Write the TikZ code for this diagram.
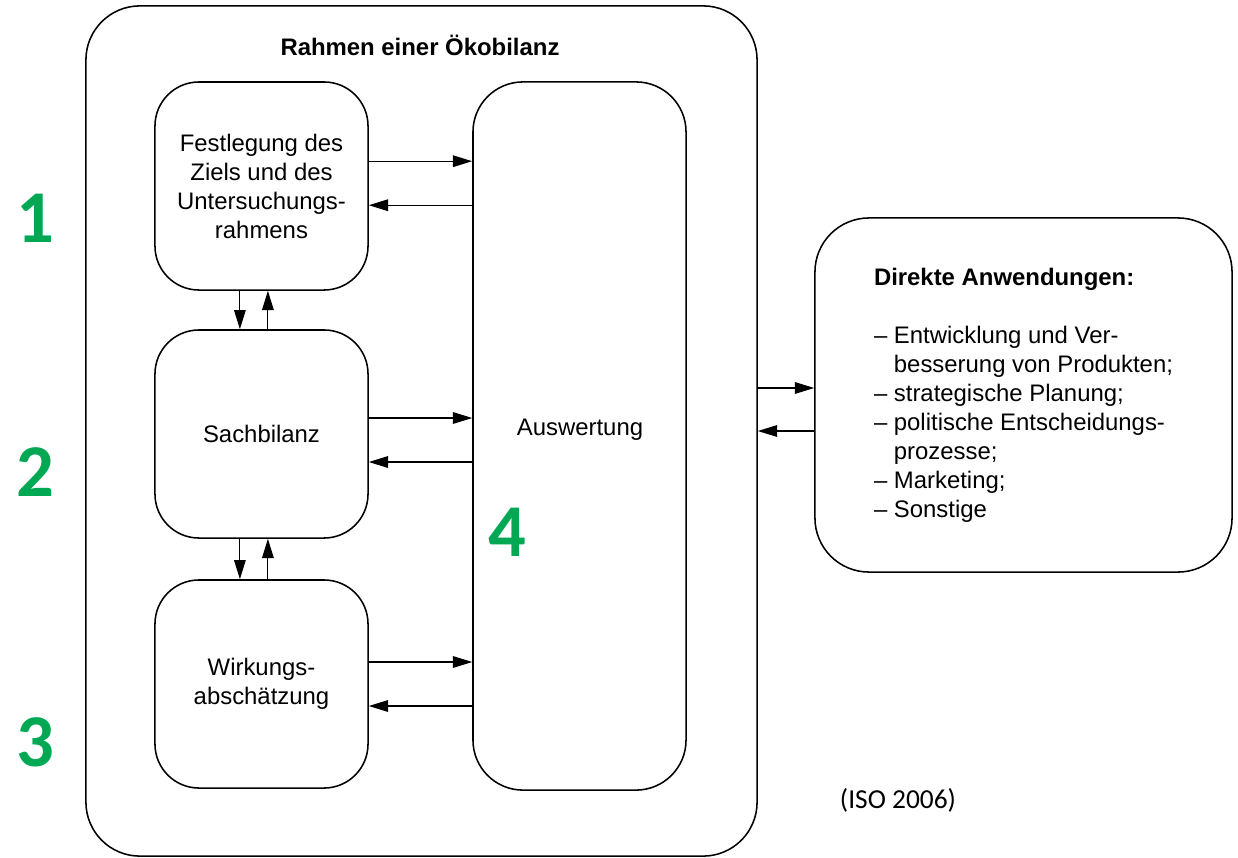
\documentclass[tikz,border=0pt]{standalone}
\usepackage{fontspec}
\setmainfont{Liberation Sans}
\newfontfamily\calib{Carlito}
\usetikzlibrary{arrows.meta}

\definecolor{nrgruen}{RGB}{0,168,84}

\tikzset{
  kasten/.style={draw, line width=1.1pt, rounded corners=1.1cm,
    minimum width=5.325cm, minimum height=5.2cm, align=center,
    font=\fontsize{17}{20.6}\selectfont},
  pfeil/.style={line width=0.8pt, -{Triangle[length=4.8mm,width=2.9mm]}},
  nummer/.style={text=nrgruen, font=\calib\bfseries\fontsize{53}{60}\selectfont}
}

\begin{document}
\begin{tikzpicture}[x=0.025cm,y=-0.025cm]
  \useasboundingbox (0,0) rectangle (1238,857);

  \node[draw, line width=1.1pt, rounded corners=1.35cm,
    minimum width=16.775cm, minimum height=21.25cm] (rahmen) at (421.5,431) {};
  \node[font=\bfseries\fontsize{17}{20.6}\selectfont] (titel) at (420,45) {Rahmen einer Ökobilanz};

  \node[kasten] (ziel) at (261.5,186) {Festlegung des\\Ziels und des\\Untersuchungs-\\rahmens};
  \node[kasten] (sach) at (261.5,434) {Sachbilanz};
  \node[kasten] (wirk) at (261.5,684) {Wirkungs-\\abschätzung};
  \node[kasten, rounded corners=1.25cm, minimum height=17.7cm] (ausw) at (579.5,436) {};
  \node[font=\fontsize{17}{20.6}\selectfont] (auswtext) at (580,430) {Auswertung};

  \node[kasten, rounded corners=1.35cm, minimum width=10.425cm, minimum height=8.85cm, align=left] (anwend) at (1023.5,395)
    {\textbf{Direkte Anwendungen:}\\[20.6pt]
     – Entwicklung und Ver-\\
     \hphantom{– }besserung von Produkten;\\
     – strategische Planung;\\
     – politische Entscheidungs-\\
     \hphantom{– }prozesse;\\
     – Marketing;\\
     – Sonstige};

  % Pfeile zur Auswertung
  \draw[pfeil] ([yshift=0.62cm]ziel.east) -- ([yshift=0.62cm]ziel.east -| ausw.west);
  \draw[pfeil] ([yshift=-0.48cm]ziel.east -| ausw.west) -- ([yshift=-0.48cm]ziel.east);
  \draw[pfeil] ([yshift=0.4cm]sach.east) -- ([yshift=0.4cm]sach.east -| ausw.west);
  \draw[pfeil] ([yshift=-0.7cm]sach.east -| ausw.west) -- ([yshift=-0.7cm]sach.east);
  \draw[pfeil] ([yshift=0.55cm]wirk.east) -- ([yshift=0.55cm]wirk.east -| ausw.west);
  \draw[pfeil] ([yshift=-0.55cm]wirk.east -| ausw.west) -- ([yshift=-0.55cm]wirk.east);

  \draw[pfeil] ([xshift=-0.54cm]ziel.south) -- ([xshift=-0.54cm]sach.north);
  \draw[pfeil] ([xshift=0.16cm]sach.north) -- ([xshift=0.16cm]ziel.south);
  \draw[pfeil] ([xshift=-0.54cm]sach.south) -- ([xshift=-0.54cm]wirk.north);
  \draw[pfeil] ([xshift=0.16cm]wirk.north) -- ([xshift=0.16cm]sach.south);

  \draw[pfeil] ([yshift=1.075cm]rahmen.east) -- ([yshift=1.075cm]rahmen.east -| anwend.west);
  \draw[pfeil] (rahmen.east -| anwend.west) -- (rahmen.east);

  \node[nummer] (n1) at (35,218) {1};
  \node[nummer] (n2) at (35,472) {2};
  \node[nummer] (n3) at (35,742) {3};
  \node[nummer] (n4) at (507,532) {4};

  \node[font=\calib\fontsize{19.5}{23}\selectfont] (quelle) at (898,800) {(ISO 2006)};
\end{tikzpicture}
\end{document}
